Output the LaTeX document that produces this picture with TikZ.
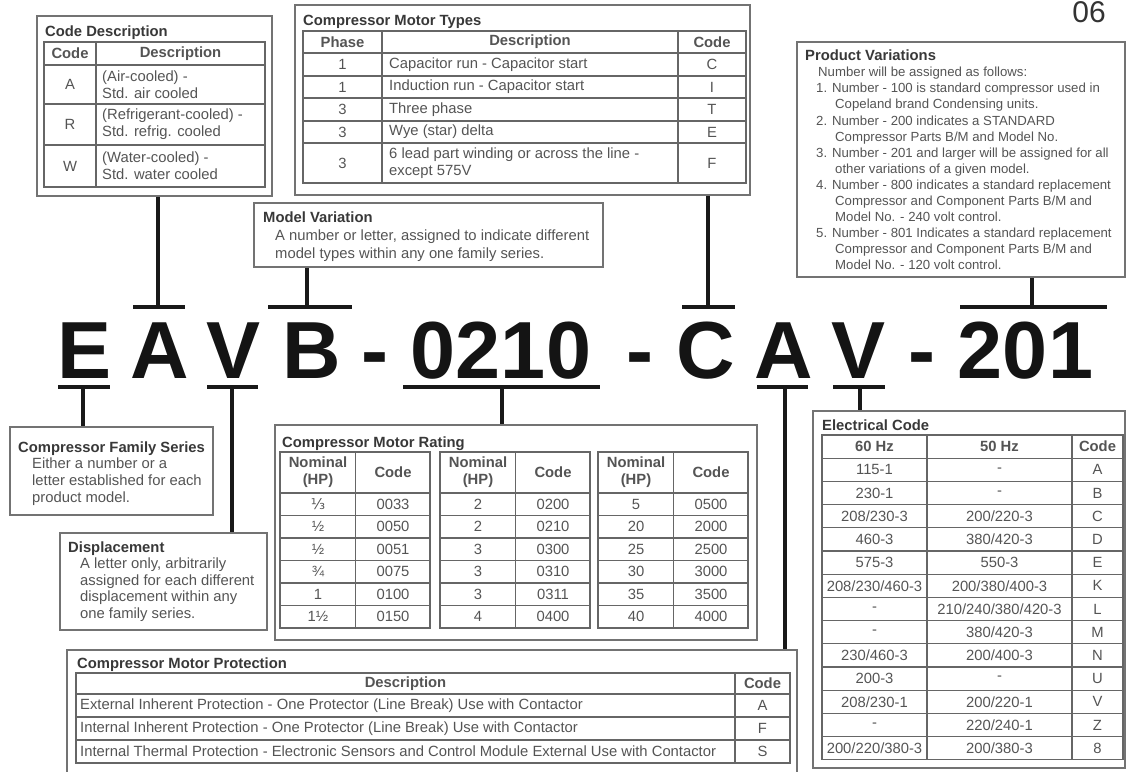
\documentclass[tikz,border=0pt]{standalone}
\usepackage{fontspec}
\setmainfont{Liberation Sans}
\newfontfamily\fracfont{DejaVu Sans}
\definecolor{framegray}{gray}{0.45}
\definecolor{gridgray}{gray}{0.4}
\definecolor{bodygray}{gray}{0.33}
\definecolor{titlegray}{gray}{0.22}
\tikzset{
  panel/.style={draw=framegray, line width=1.6pt, inner sep=0pt},
  grid/.style={draw=gridgray, line width=1.2pt},
  heading/.style={font=\bfseries\fontsize{14.8}{17}\selectfont, text=titlegray, anchor=base west, inner sep=0pt},
  cell/.style={font=\fontsize{14.8}{17}\selectfont, text=bodygray, inner sep=0pt},
  hcell/.style={cell, font=\bfseries\fontsize{14.8}{17}\selectfont},
  bigchar/.style={font=\bfseries\fontsize{81}{81}\selectfont, text=black!92, anchor=base, inner sep=0pt},
  bar/.style={line width=4pt, black!90},
  stem/.style={line width=4pt, black!90}
}
\begin{document}
\begin{tikzpicture}[x=1pt,y=-1pt]
\useasboundingbox (0,0) rectangle (1129,771);
\node[font=\fontsize{30}{30}\selectfont, text=black!80, anchor=base, inner sep=0pt] (pagenum) at (1089,23) {06};

% the model number
\node[bigchar] (cE) at (84.5,378) {E};
\node[bigchar] (cA) at (159.5,378) {A};
\node[bigchar] (cV) at (233.5,378) {V};
\node[bigchar] (cB) at (311.5,378) {B};
\node[bigchar] (d1) at (374.5,378) {-};
\node[bigchar] (cHP) at (501,378) {0210};
\node[bigchar] (d2) at (639.5,378) {-};
\node[bigchar] (cC) at (706,378) {C};
\node[bigchar] (cA2) at (783.5,378) {A};
\node[bigchar] (cV2) at (859,378) {V};
\node[bigchar] (d3) at (921.5,378) {-};
\node[bigchar] (cVar) at (1025.5,378) {201};

% Code Description
\node[panel, minimum width=235pt, minimum height=180pt] (cdbox) at (154.5,106) {};
\node[heading] (cdtitle) at (45,36) {Code Description};
\draw[grid] (44,42) rectangle (265,187);
\draw[grid] (96,42) -- (96,187);
\foreach \y in {65,104,145} \draw[grid] (44,\y) -- (265,\y);
\node[hcell] (cdh1) at (70,53.5) {Code};
\node[hcell] (cdh2) at (180.5,53.5) {Description};
\foreach \c/\t/\y [count=\i] in {A/{(Air-cooled) -\\Std. air cooled}/84.5,
    R/{(Refrigerant-cooled) -\\Std. refrig. cooled}/124.5,
    W/{(Water-cooled) -\\Std. water cooled}/166} {
  \node[cell] (cdc\i) at (70,\y) {\c};
  \node[cell, align=left, anchor=west] (cdt\i) at (102,\y) {\t};
}

% Compressor Motor Types
\node[panel, minimum width=455pt, minimum height=190pt] (mtbox) at (522.5,100) {};
\node[heading] (mttitle) at (303,25) {Compressor Motor Types};
\draw[grid] (303,31) rectangle (746,183);
\foreach \x in {382,678} \draw[grid] (\x,31) -- (\x,183);
\foreach \y in {53,76,98,121,143} \draw[grid] (303,\y) -- (746,\y);
\node[hcell] (mth1) at (342.5,42) {Phase};
\node[hcell] (mth2) at (530,42) {Description};
\node[hcell] (mth3) at (712,42) {Code};
\foreach \p/\t/\c/\y [count=\i] in {1/{Capacitor run - Capacitor start}/C/64.5,
    1/{Induction run - Capacitor start}/I/87,
    3/{Three phase}/T/109.5,
    3/{Wye (star) delta}/E/132,
    3/{6 lead part winding or across the line -\\except 575V}/F/163} {
  \node[cell] (mtp\i) at (342.5,\y) {\p};
  \node[cell, align=left, anchor=west] (mtt\i) at (389,\y) {\t};
  \node[cell] (mtc\i) at (712,\y) {\c};
}

% Product Variations
\node[panel, minimum width=328pt, minimum height=235pt] (pvbox) at (961,159.5) {};
\node[heading] (pvtitle) at (805,60) {Product Variations};
\node[cell, font=\fontsize{13.2}{16.1}\selectfont, align=left, anchor=north west] (pvtext) at (816,67) {%
\hspace*{2pt}Number will be assigned as follows:\\
1. Number - 100 is standard compressor used in\\
\hspace*{19pt}Copeland brand Condensing units.\\
2. Number - 200 indicates a STANDARD\\
\hspace*{19pt}Compressor Parts B/M and Model No.\\
3. Number - 201 and larger will be assigned for all\\
\hspace*{19pt}other variations of a given model.\\
4. Number - 800 indicates a standard replacement\\
\hspace*{19pt}Compressor and Component Parts B/M and\\
\hspace*{19pt}Model No. - 240 volt control.\\
5. Number - 801 Indicates a standard replacement\\
\hspace*{19pt}Compressor and Component Parts B/M and\\
\hspace*{19pt}Model No. - 120 volt control.};

% Model Variation
\node[panel, minimum width=349pt, minimum height=64pt] (mvbox) at (428.5,235) {};
\node[heading] (mvtitle) at (263,222) {Model Variation};
\node[cell, font=\fontsize{14.8}{18}\selectfont, align=left, anchor=north west] (mvtext) at (275,229.4)
  {A number or letter, assigned to indicate different\\model types within any one family series.};

% Compressor Family Series
\node[panel, minimum width=203pt, minimum height=88pt] (fsbox) at (111.5,471) {};
\node[heading] (fstitle) at (18,452) {Compressor Family Series};
\node[cell, font=\fontsize{14.8}{17}\selectfont, align=left, anchor=north west] (fstext) at (32,457.4)
  {Either a number or a\\letter established for each\\product model.};

% Displacement
\node[panel, minimum width=207pt, minimum height=97pt] (dpbox) at (163.5,581.5) {};
\node[heading] (dptitle) at (68,552) {Displacement};
\node[cell, font=\fontsize{14.8}{16.7}\selectfont, align=left, anchor=north west] (dptext) at (80,557.4)
  {A letter only, arbitrarily\\assigned for each different\\displacement within any\\one family series.};

% Compressor Motor Rating
\node[panel, minimum width=482pt, minimum height=215pt] (mrbox) at (516,532.5) {};
\node[heading] (mrtitle) at (282,447) {Compressor Motor Rating};
\foreach \xo in {280,440,598} {
  \draw[grid] (\xo,452) rectangle ++(150,176);
  \draw[grid] (\xo+75.5,452) -- (\xo+75.5,628);
  \foreach \y in {493,515.5,538,560.5,583,605.5} \draw[grid] (\xo,\y) -- (\xo+150,\y);
  \node[hcell, align=center] (mrh\xo) at (\xo+38,472.5) {Nominal\\(HP)};
  \node[hcell] (mrc\xo) at (\xo+113,472.5) {Code};
}
\foreach \hp/\cd [count=\i] in {{\fracfont ⅓}/0033, ½/0050, ½/0051, ¾/0075, 1/0100, 1½/0150} {
  \node[cell] (hpa\i) at (318,{493+22.5*(\i-0.5)}) {\hp};
  \node[cell] (cda\i) at (393,{493+22.5*(\i-0.5)}) {\cd};
}
\foreach \hp/\cd [count=\i] in {2/0200, 2/0210, 3/0300, 3/0310, 3/0311, 4/0400} {
  \node[cell] (hpb\i) at (478,{493+22.5*(\i-0.5)}) {\hp};
  \node[cell] (cdb\i) at (553,{493+22.5*(\i-0.5)}) {\cd};
}
\foreach \hp/\cd [count=\i] in {5/0500, 20/2000, 25/2500, 30/3000, 35/3500, 40/4000} {
  \node[cell] (hpc\i) at (636,{493+22.5*(\i-0.5)}) {\hp};
  \node[cell] (cdc\i) at (711,{493+22.5*(\i-0.5)}) {\cd};
}

% Electrical Code
\node[panel, minimum width=312pt, minimum height=357pt] (ecbox) at (969,589.5) {};
\node[heading] (ectitle) at (822,430) {Electrical Code};
\draw[grid] (822,435) rectangle (1123,759.8);
\foreach \x in {927,1072} \draw[grid] (\x,435) -- (\x,759.8);
\foreach \k in {1,...,13} \draw[grid] (822,{435+23.2*\k}) -- (1123,{435+23.2*\k});
\node[hcell] (ech1) at (874.5,446.6) {60 Hz};
\node[hcell] (ech2) at (999.5,446.6) {50 Hz};
\node[hcell] (ech3) at (1097.5,446.6) {Code};
\foreach \a/\b/\c [count=\i] in {{115-1}/{-}/A, {230-1}/{-}/B, {208/230-3}/{200/220-3}/C,
    {460-3}/{380/420-3}/D, {575-3}/{550-3}/E, {208/230/460-3}/{200/380/400-3}/K,
    {-}/{210/240/380/420-3}/L, {-}/{380/420-3}/M, {230/460-3}/{200/400-3}/N,
    {200-3}/{-}/U, {208/230-1}/{200/220-1}/V, {-}/{220/240-1}/Z, {200/220/380-3}/{200/380-3}/8} {
  \node[cell] (eca\i) at (874.5,{458.2+23.2*(\i-0.5)}) {\a};
  \node[cell] (ecb\i) at (999.5,{458.2+23.2*(\i-0.5)}) {\b};
  \node[cell] (ecc\i) at (1097.5,{458.2+23.2*(\i-0.5)}) {\c};
}

% Compressor Motor Protection
\node[panel, minimum width=730pt, minimum height=130pt] (mpbox) at (432,715) {};
\node[heading] (mptitle) at (77,668) {Compressor Motor Protection};
\draw[grid] (76,673) rectangle (790,763);
\draw[grid] (735,673) -- (735,763);
\foreach \y in {694,717,740} \draw[grid] (76,\y) -- (790,\y);
\node[hcell] (mph1) at (405.5,683.5) {Description};
\node[hcell] (mph2) at (762.5,683.5) {Code};
\foreach \t/\c/\y [count=\i] in {{External Inherent Protection - One Protector (Line Break) Use with Contactor}/A/705.5,
    {Internal Inherent Protection - One Protector (Line Break) Use with Contactor}/F/728.5,
    {Internal Thermal Protection - Electronic Sensors and Control Module External Use with Contactor}/S/751.5} {
  \node[cell, anchor=west] (mpt\i) at (80,\y) {\t};
  \node[cell] (mpc\i) at (762.5,\y) {\c};
}

% bars over and under the characters
\coordinate (oA) at (158,307);
\coordinate (oB) at (307,307);
\coordinate (oC) at (708,307);
\coordinate (oVar) at (1032,307);
\coordinate (uE) at (83,387);
\coordinate (uV) at (232,387);
\coordinate (uHP) at (502,387);
\coordinate (uA) at (785,387);
\coordinate (uV2) at (860,387);
\draw[bar] (133,307) -- (185,307);
\draw[bar] (268,307) -- (352,307);
\draw[bar] (682,307) -- (735,307);
\draw[bar] (960,307) -- (1107,307);
\draw[bar] (58,387) -- (110,387);
\draw[bar] (207,387) -- (258,387);
\draw[bar] (403,387) -- (600,387);
\draw[bar] (757,387) -- (808,387);
\draw[bar] (833,387) -- (885,387);

% stems to the boxes
\draw[stem] (cdbox.south -| oA) -- (oA);
\draw[stem] (mvbox.south -| oB) -- (oB);
\draw[stem] (mtbox.south -| oC) -- (oC);
\draw[stem] (pvbox.south -| oVar) -- (oVar);
\draw[stem] (uE) -- (fsbox.north -| uE);
\draw[stem] (uV) -- (dpbox.north -| uV);
\draw[stem] (uHP) -- (mrbox.north -| uHP);
\draw[stem] (uA) -- (mpbox.north -| uA);
\draw[stem] (uV2) -- (ecbox.north -| uV2);
\end{tikzpicture}
\end{document}
